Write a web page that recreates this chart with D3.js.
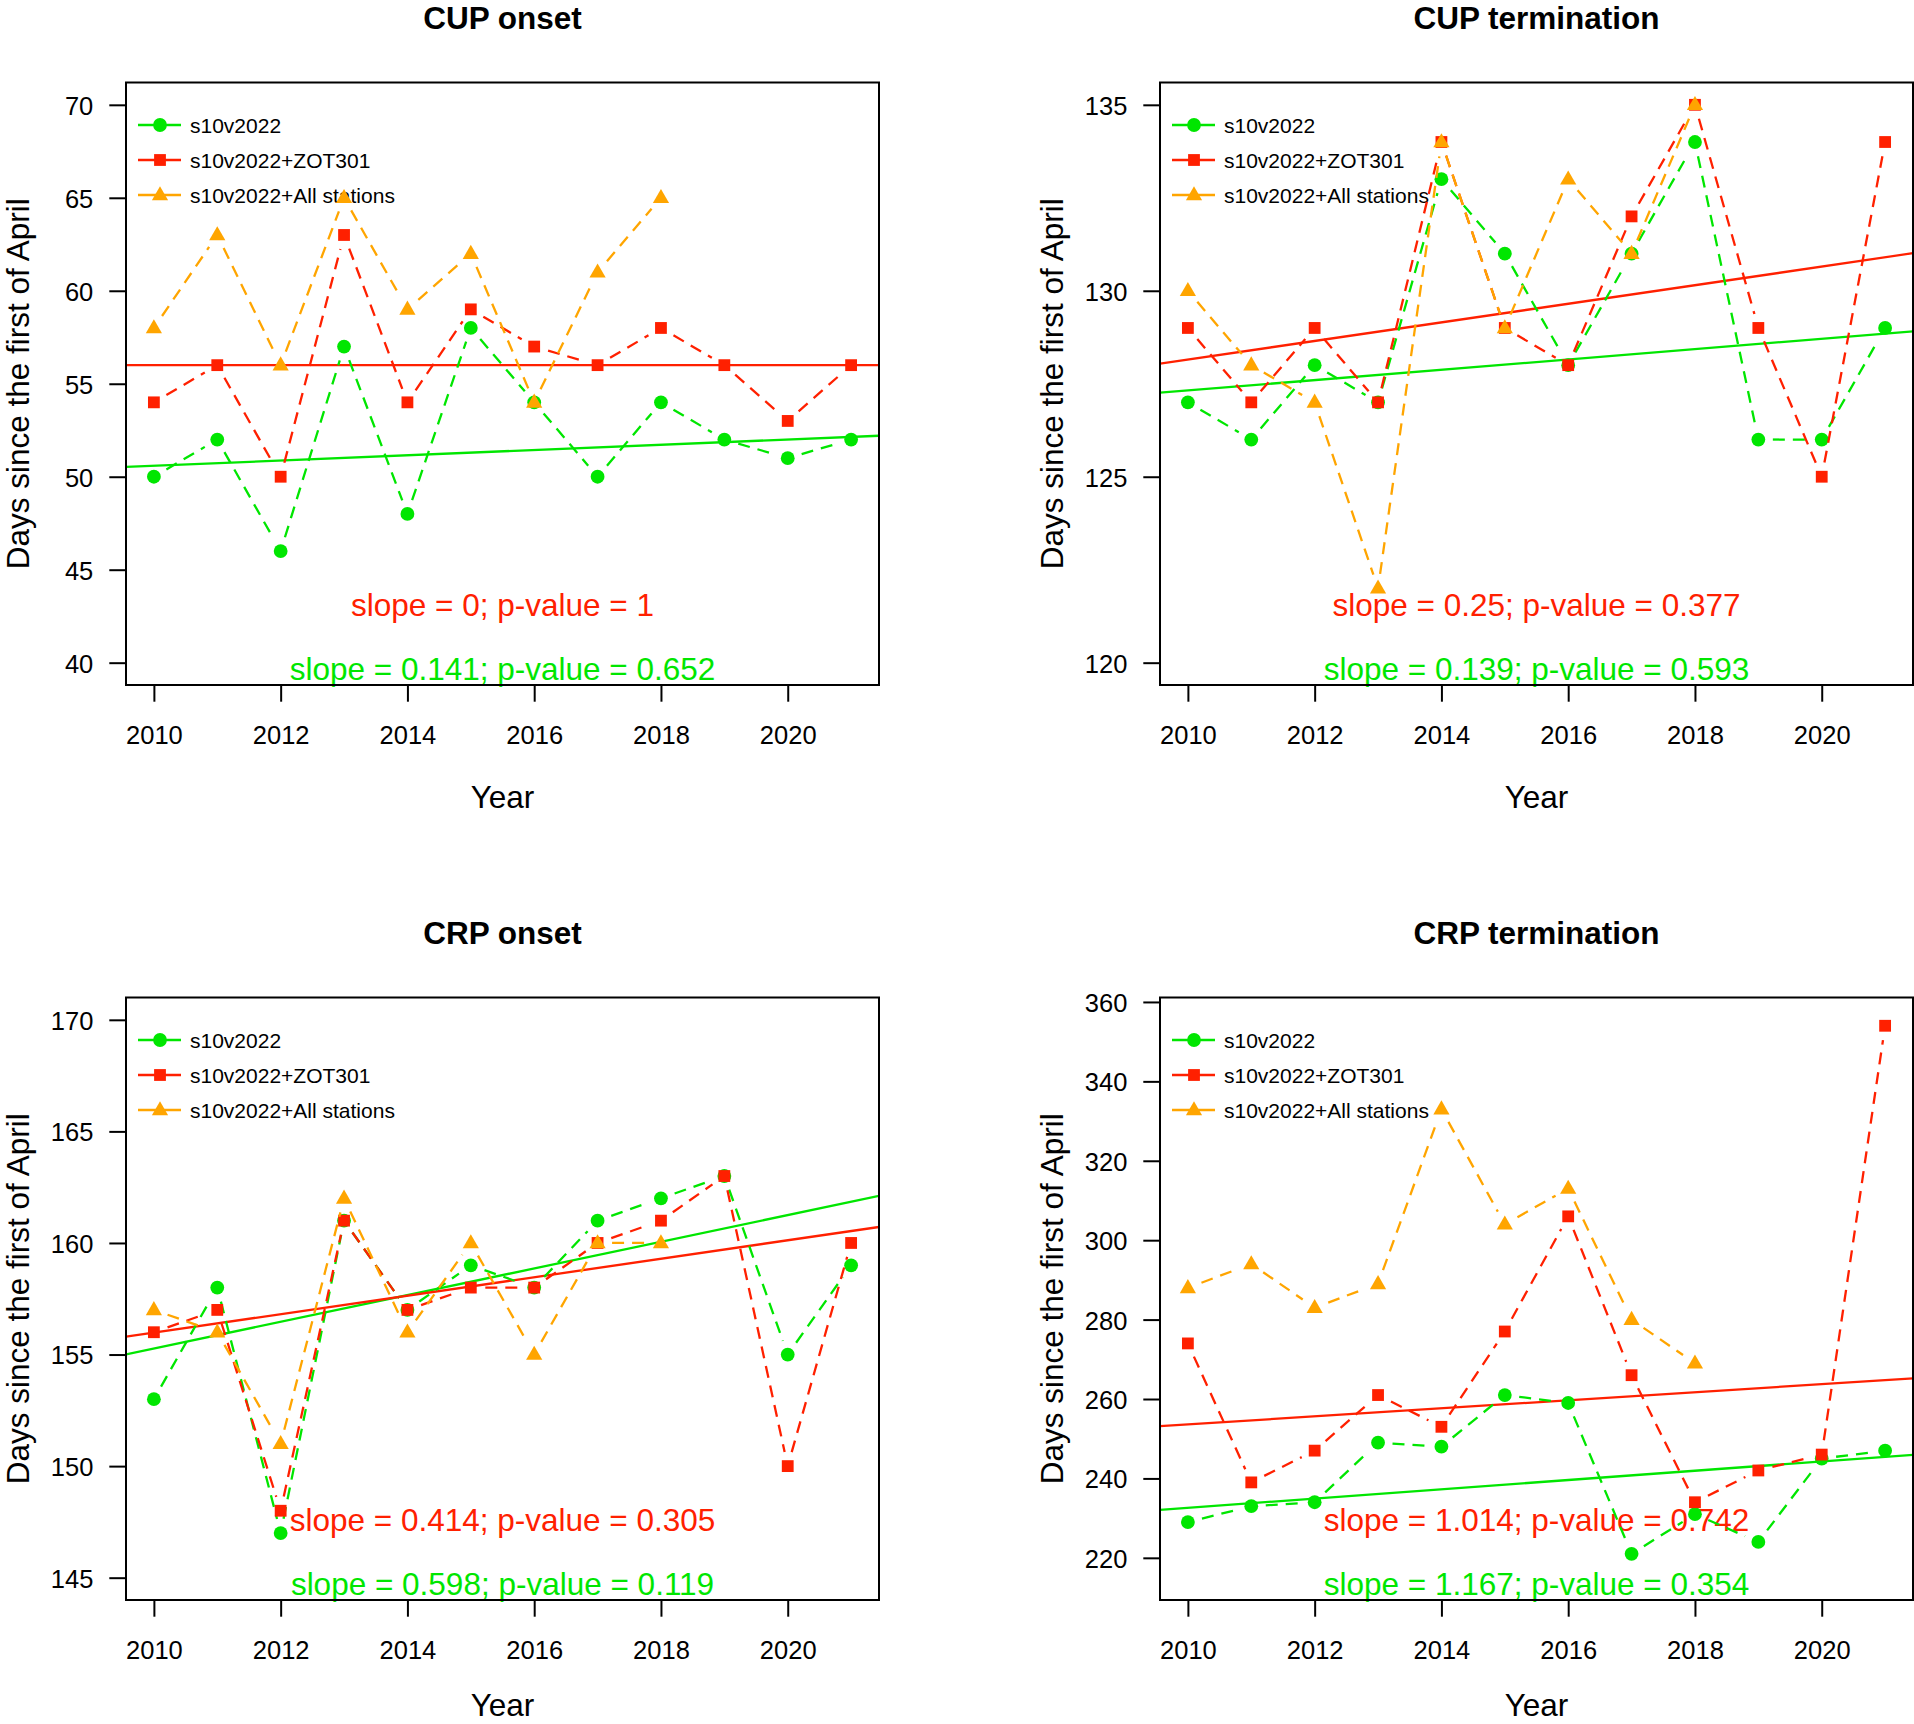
<!DOCTYPE html>
<html>
<head>
<meta charset="utf-8">
<script src="https://cdn.jsdelivr.net/npm/d3@7/dist/d3.min.js"></script>
<style>
  body { margin: 0; background: #fff; }
  text { font-family: "Liberation Sans", Arial, Helvetica, sans-serif; }
</style>
</head>
<body>
<svg id="chart" width="1914" height="1724"></svg>
<script>
// years on the x axis
var years = [2010, 2011, 2012, 2013, 2014, 2015, 2016, 2017, 2018, 2019, 2020, 2021];
var xTicks = [2010, 2012, 2014, 2016, 2018, 2020];
var seriesNames = ["s10v2022", "s10v2022+ZOT301", "s10v2022+All stations"];

// CUP onset
var cupOnsetS10 = [50, 52, 46, 57, 48, 58, 54, 50, 54, 52, 51, 52];
var cupOnsetZOT = [54, 56, 50, 63, 54, 59, 57, 56, 58, 56, 53, 56];
var cupOnsetAll = [58, 63, 56, 65, 59, 62, 54, 61, 65, null, null, null];
var cupOnsetTicks = [40, 45, 50, 55, 60, 65, 70];

// CUP termination
var cupTermS10 = [127, 126, 128, 127, 133, 131, 128, 131, 134, 126, 126, 129];
var cupTermZOT = [129, 127, 129, 127, 134, 129, 128, 132, 135, 129, 125, 134];
var cupTermAll = [130, 128, 127, 122, 134, 129, 133, 131, 135, null, null, null];
var cupTermTicks = [120, 125, 130, 135];

// CRP onset
var crpOnsetS10 = [153, 158, 147, 161, 157, 159, 158, 161, 162, 163, 155, 159];
var crpOnsetZOT = [156, 157, 148, 161, 157, 158, 158, 160, 161, 163, 150, 160];
var crpOnsetAll = [157, 156, 151, 162, 156, 160, 155, 160, 160, null, null, null];
var crpOnsetTicks = [145, 150, 155, 160, 165, 170];

// CRP termination
var crpTermS10 = [229, 233, 234, 249, 248, 261, 259, 221, 231, 224, 245, 247];
var crpTermZOT = [274, 239, 247, 261, 253, 277, 306, 266, 234, 242, 246, 354];
var crpTermAll = [288, 294, 283, 289, 333, 304, 313, 280, 269, null, null, null];
var crpTermTicks = [220, 240, 260, 280, 300, 320, 340, 360];

// trend lines: [value at 2010, slope]
var trendS10 = [[50.59, 0.141], [127.32, 0.139], [155.27, 0.598], [232.6, 1.167]];
var trendZOT = [[56, 0], [128.15, 0.25], [155.98, 0.414], [253.6, 1.014]];
var textS10 = ["slope = 0.141; p-value = 0.652", "slope = 0.139; p-value = 0.593",
               "slope = 0.598; p-value = 0.119", "slope = 1.167; p-value = 0.354"];
var textZOT = ["slope = 0; p-value = 1", "slope = 0.25; p-value = 0.377",
               "slope = 0.414; p-value = 0.305", "slope = 1.014; p-value = 0.742"];

var titles = ["CUP onset", "CUP termination", "CRP onset", "CRP termination"];
var ylims = [[40, 70], [120, 135], [145, 170], [215, 355.5]];

var panels = [
  { s10: cupOnsetS10, zot: cupOnsetZOT, all: cupOnsetAll, ticks: cupOnsetTicks },
  { s10: cupTermS10, zot: cupTermZOT, all: cupTermAll, ticks: cupTermTicks },
  { s10: crpOnsetS10, zot: crpOnsetZOT, all: crpOnsetAll, ticks: crpOnsetTicks },
  { s10: crpTermS10, zot: crpTermZOT, all: crpTermAll, ticks: crpTermTicks }
];
var offsets = [[0, 0], [1034, 0], [0, 915], [1034, 915]];

var GREEN = "#00E600", RED = "#FF2000", ORANGE = "#FFA500";
var colors = [GREEN, RED, ORANGE];
var shapes = ["circle", "square", "triangle"];
var box = { l: 126, r: 879, t: 82.5, b: 685 };
var gap = 14.5;
var H = 1724;

var svg = d3.select("#chart");

function marker(g, shape, cx, cy, col) {
  if (shape === "circle") {
    g.append("circle").attr("cx", cx).attr("cy", cy).attr("r", 6.9).attr("fill", col);
  } else if (shape === "square") {
    g.append("rect").attr("x", cx - 5.9).attr("y", cy - 5.9)
      .attr("width", 11.8).attr("height", 11.8).attr("fill", col);
  } else {
    g.append("path")
      .attr("d", "M" + cx + "," + (cy - 8.8) + "L" + (cx + 8.1) + "," + (cy + 5.3) +
                 "L" + (cx - 8.1) + "," + (cy + 5.3) + "Z")
      .attr("fill", col);
  }
}

panels.forEach(function(p, i) {
  var g = svg.append("g").attr("transform", "translate(" + offsets[i][0] + "," + offsets[i][1] + ")");
  var xPad = 0.04 * (years[years.length - 1] - years[0]);
  var x = d3.scaleLinear().domain([years[0] - xPad, years[years.length - 1] + xPad]).range([box.l, box.r]);
  var lim = ylims[i], yPad = 0.04 * (lim[1] - lim[0]);
  var y = d3.scaleLinear().domain([lim[0] - yPad, lim[1] + yPad]).range([box.b, box.t]);

  var clipId = "clip" + i;
  g.append("clipPath").attr("id", clipId).append("rect")
    .attr("x", box.l).attr("y", box.t).attr("width", box.r - box.l).attr("height", box.b - box.t);

  // title
  g.append("text").attr("x", (box.l + box.r) / 2).attr("y", 28.5)
    .attr("text-anchor", "middle").attr("font-size", 31.5).attr("font-weight", "bold")
    .text(titles[i]);

  // axes
  var yAxis = d3.axisLeft(y).tickValues(p.ticks).tickSize(16.7).tickPadding(16).tickFormat(d3.format("d"));
  var ya = g.append("g").attr("transform", "translate(" + box.l + ",0)").call(yAxis);
  var xAxis = d3.axisBottom(x).tickValues(xTicks).tickSize(16.7).tickPadding(26).tickFormat(d3.format("d"));
  var xa = g.append("g").attr("transform", "translate(0," + box.b + ")").call(xAxis);
  [ya, xa].forEach(function(a) {
    a.select(".domain").remove();
    a.selectAll(".tick line").attr("stroke", "#000").attr("stroke-width", 2);
    a.selectAll(".tick text").attr("font-size", 25.5).attr("fill", "#000")
      .style("font-family", "'Liberation Sans', Arial, sans-serif");
  });
  ya.selectAll(".tick text").attr("dy", "0.37em");
  xa.selectAll(".tick text").attr("dy", 0).attr("y", 744 - box.b);

  // keep the bottom row's "Year" inside the page
  var yearY = Math.min(807.5, H - offsets[i][1] - 8);
  g.append("text").attr("x", (box.l + box.r) / 2).attr("y", yearY)
    .attr("text-anchor", "middle").attr("font-size", 31.5).text("Year");
  g.append("text").attr("transform", "translate(28.5," + (box.t + box.b) / 2 + ") rotate(-90)")
    .attr("text-anchor", "middle").attr("font-size", 31.5).text("Days since the first of April");

  // legend
  seriesNames.forEach(function(name, k) {
    var ry = 125 + k * 35;
    g.append("line").attr("x1", 138).attr("x2", 181).attr("y1", ry).attr("y2", ry)
      .attr("stroke", colors[k]).attr("stroke-width", 2.3);
    marker(g, shapes[k], 160, ry, colors[k]);
    g.append("text").attr("x", 190).attr("y", ry + 8).attr("font-size", 21).text(name);
  });

  // slope annotations
  g.append("text").attr("x", (box.l + box.r) / 2).attr("y", 616)
    .attr("text-anchor", "middle").attr("font-size", 31.5).attr("fill", RED).text(textZOT[i]);
  g.append("text").attr("x", (box.l + box.r) / 2).attr("y", 679.5)
    .attr("text-anchor", "middle").attr("font-size", 31.5).attr("fill", GREEN).text(textS10[i]);

  // trend lines
  var trends = [[trendS10[i], GREEN], [trendZOT[i], RED]];
  var tg = g.append("g").attr("clip-path", "url(#" + clipId + ")");
  trends.forEach(function(t) {
    var x0 = x.domain()[0], x1 = x.domain()[1];
    tg.append("line")
      .attr("x1", x(x0)).attr("y1", y(t[0][0] + t[0][1] * (x0 - 2010)))
      .attr("x2", x(x1)).attr("y2", y(t[0][0] + t[0][1] * (x1 - 2010)))
      .attr("stroke", t[1]).attr("stroke-width", 2.3);
  });

  // series drawn as R type = "b" with dashed lines
  [p.s10, p.zot, p.all].forEach(function(vals, k) {
    var pts = years.map(function(yr, j) {
      return vals[j] == null ? null : [x(yr), y(vals[j])];
    });
    for (var j = 0; j < pts.length - 1; j++) {
      var a = pts[j], b = pts[j + 1];
      if (!a || !b) continue;
      var dx = b[0] - a[0], dy = b[1] - a[1], len = Math.sqrt(dx * dx + dy * dy);
      if (len <= 2 * gap) continue;
      var ux = dx / len, uy = dy / len;
      g.append("line")
        .attr("x1", a[0] + ux * gap).attr("y1", a[1] + uy * gap)
        .attr("x2", b[0] - ux * gap).attr("y2", b[1] - uy * gap)
        .attr("stroke", colors[k]).attr("stroke-width", 2.3)
        .attr("stroke-dasharray", "12,8");
    }
    pts.forEach(function(pt) {
      if (pt) marker(g, shapes[k], pt[0], pt[1], colors[k]);
    });
  });

  // box
  g.append("rect").attr("x", box.l).attr("y", box.t)
    .attr("width", box.r - box.l).attr("height", box.b - box.t)
    .attr("fill", "none").attr("stroke", "#000").attr("stroke-width", 2);
});
</script>
</body>
</html>
